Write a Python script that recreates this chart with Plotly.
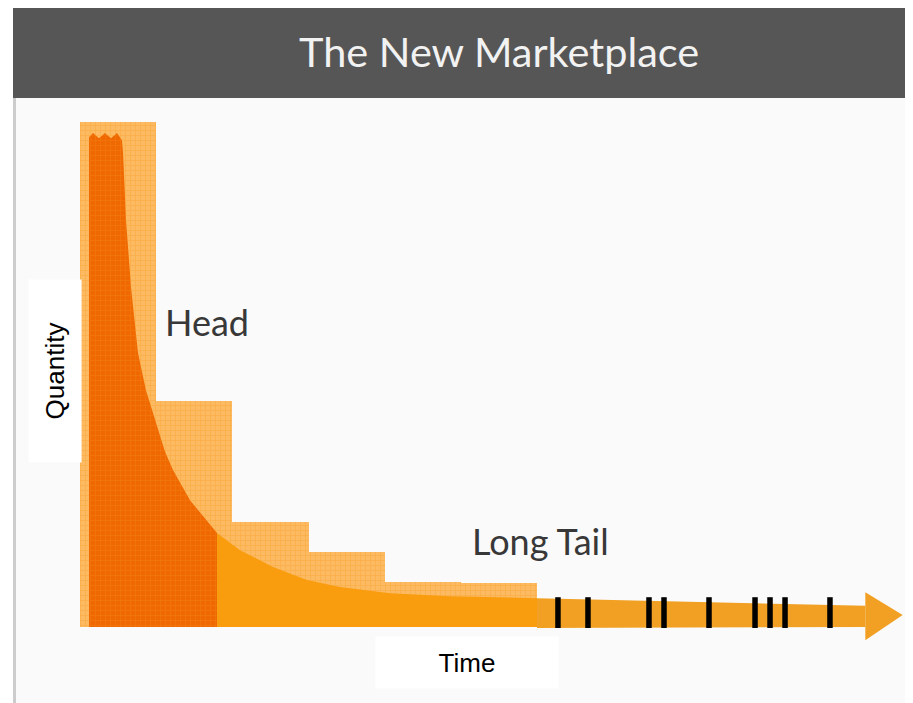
import plotly.graph_objects as go

# ---- data (chart units: x = time slots, y = quantity, 0..100) ----
bar_slots = [0.5, 1.5, 2.5, 3.5, 4.5, 5.5]
bar_heights = [100, 44.7, 20.8, 14.8, 8.9, 8.7]

curve_x = [0.118, 0.118, 0.171, 0.249, 0.328, 0.407, 0.486, 0.551, 0.565, 0.604,
           0.670, 0.761, 0.866, 0.945, 1.024, 1.116, 1.221, 1.444, 1.799,
           2.101, 2.534, 2.980, 3.413, 4.070, 4.858, 6.0]
curve_y = [0, 97.0, 97.8, 96.8, 97.8, 96.8, 97.8, 96.4, 93.9, 80.6,
           67.3, 54.3, 46.9, 43.0, 39.0, 34.7, 31.1, 25.1, 18.6,
           15.2, 11.9, 9.3, 7.9, 6.7, 6.1, 5.7]
head_end = 1.799

shaft_x = [6.0, 10.31]
shaft_top = [5.7, 4.2]
shaft_bottom = [-0.2, 0.0]
head_x = [10.31, 10.80, 10.31]
head_y = [6.9, 2.4, -2.6]

tick_x = [6.275, 6.669, 7.470, 7.667, 8.258, 8.862, 9.059, 9.256, 9.846]
tick_top = 5.9
tick_bottom = -0.2

title_text = "The New Marketplace"
x_label = "Time"
y_label = "Quantity"
head_label = "Head"
tail_label = "Long Tail"

# ---- figure ----
W, H = 913, 703
OFF = 8  # page body margin offset
fig = go.Figure()

fig.add_trace(go.Bar(
    x=bar_slots, y=bar_heights, width=1,
    marker=dict(color="#fcb85a", line=dict(width=0),
                pattern=dict(shape="+", fgcolor="#f8a030", bgcolor="#fcbb62",
                             size=5, solidity=0.3)),
    hoverinfo="skip"))

hx = [x for x in curve_x if x <= head_end]
hy = [y for x, y in zip(curve_x, curve_y) if x <= head_end]
fig.add_trace(go.Scatter(
    x=hx + [hx[-1]], y=hy + [0], mode="lines", line=dict(width=0),
    fill="toself", fillcolor="#f06a00",
    fillpattern=dict(shape="+", fgcolor="#f5871c", bgcolor="#ef6800", size=5, solidity=0.25),
    hoverinfo="skip"))

tx = [x for x in curve_x if x >= head_end]
ty = [y for x, y in zip(curve_x, curve_y) if x >= head_end]
fig.add_trace(go.Scatter(
    x=[tx[0]] + tx + [tx[-1]], y=[0] + ty + [0], mode="lines", line=dict(width=0),
    fill="toself", fillcolor="#f99c0e", hoverinfo="skip"))

# arrow shaft and head
fig.add_trace(go.Scatter(
    x=shaft_x + shaft_x[::-1], y=shaft_top + shaft_bottom[::-1],
    mode="lines", line=dict(width=0), fill="toself", fillcolor="#f1a023",
    hoverinfo="skip"))
fig.add_trace(go.Scatter(
    x=head_x, y=head_y, mode="lines", line=dict(width=0), fill="toself",
    fillcolor="#f1a023", hoverinfo="skip"))

# black tick marks
tk_x, tk_y = [], []
for t in tick_x:
    tk_x += [t, t, None]
    tk_y += [tick_bottom, tick_top, None]
fig.add_trace(go.Scatter(x=tk_x, y=tk_y, mode="lines",
                         line=dict(color="black", width=5.5), hoverinfo="skip"))

px_x = 76.17
px_y = 5.05
x0_px = 80 - OFF
y0_px = 627 - OFF


def py(v):
    """page pixel y -> paper fraction"""
    return 1 - (v - OFF) / H


def pxp(v):
    return (v - OFF) / W


fig.update_layout(
    width=W, height=H, autosize=False,
    margin=dict(l=0, r=0, t=0, b=0, pad=0),
    paper_bgcolor="white", plot_bgcolor="rgba(0,0,0,0)",
    showlegend=False, bargap=0,
    xaxis=dict(range=[-x0_px / px_x, (W - x0_px) / px_x], visible=False,
               fixedrange=True),
    yaxis=dict(range=[-(H - y0_px) / px_y, y0_px / px_y], visible=False,
               fixedrange=True),
    shapes=[
        dict(type="rect", xref="paper", yref="paper", x0=pxp(13), x1=1,
             y0=0, y1=py(97), fillcolor="#fafafa", line=dict(width=0),
             layer="below"),
        dict(type="rect", xref="paper", yref="paper", x0=pxp(13), x1=1,
             y0=py(98), y1=py(8), fillcolor="#565656", line=dict(width=0),
             layer="below"),
        dict(type="line", xref="paper", yref="paper", x0=pxp(14.5), x1=pxp(14.5),
             y0=0, y1=py(98), line=dict(color="#cccccc", width=3),
             layer="below"),
    ],
    annotations=[
        dict(text=title_text, xref="paper", yref="paper", x=pxp(499), y=py(51),
             showarrow=False, xanchor="center", yanchor="middle",
             font=dict(family="Lato", size=41.5, color="#f2f2f2")),
        dict(text=head_label, x=1.667, y=60.3, showarrow=False,
             xanchor="center", yanchor="middle",
             font=dict(family="Lato", size=36, color="#383838")),
        dict(text=tail_label, x=6.05, y=17.0, showarrow=False,
             xanchor="center", yanchor="middle",
             font=dict(family="Lato", size=36, color="#383838")),
        dict(text=x_label, x=5.08, y=-7.03, showarrow=False,
             xanchor="center", yanchor="middle", width=182, height=51,
             bgcolor="white", borderpad=0,
             font=dict(family="Liberation Sans", size=26, color="black")),
        dict(text=y_label, x=-0.328, y=50.7, showarrow=False, textangle=-90,
             xanchor="center", yanchor="middle", width=182, height=52,
             bgcolor="white", borderpad=0,
             font=dict(family="Liberation Sans", size=26, color="black")),
    ],
)

fig.write_html("out.html")
